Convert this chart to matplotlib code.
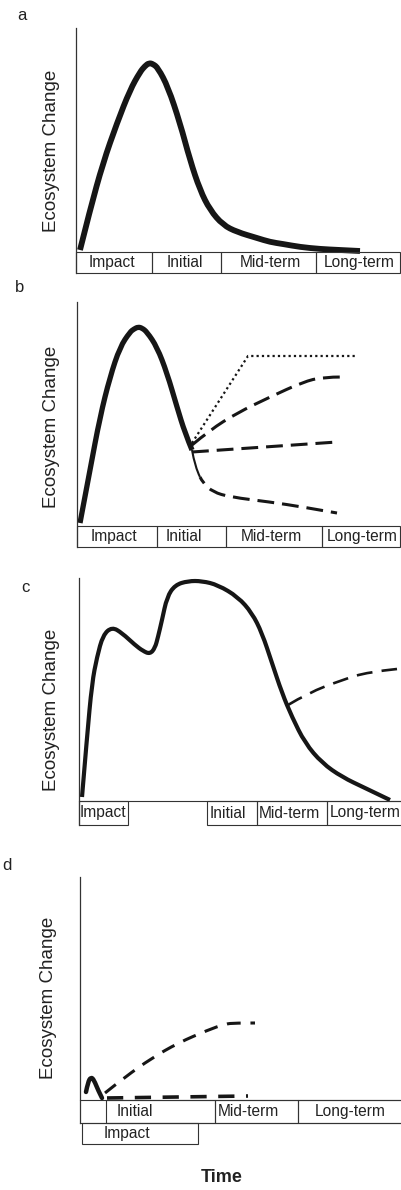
import matplotlib
matplotlib.use("Agg")
import matplotlib.pyplot as plt
from matplotlib.patches import Rectangle, PathPatch
from matplotlib.path import Path

plt.rcParams['font.family'] = ['Liberation Sans', 'DejaVu Sans']

W, H = 402, 1190
INK = '#161616'
EDGE = '#333333'

stages = ['Impact', 'Initial', 'Mid-term', 'Long-term']

# panel a - single pulse, return to baseline
a_t = [4, 14, 27, 41, 54, 64, 69, 73, 77, 82, 92, 104, 114, 124, 134, 147, 161, 181, 194, 207, 224, 244, 264, 284]
a_change = [2, 42, 89, 129, 162, 180, 186, 189, 188, 184, 165, 129, 92, 62, 42, 27, 20, 14, 10, 8, 5, 3, 2, 1]
a_edges = [0, 76, 145, 240, 324]
a_label_x = [36, 109, 194, 283]

# panel b - pulse, then alternative trajectories
b_t = [3, 13, 23, 33, 43, 53, 57, 61, 65, 70, 80, 90, 100, 108, 115]
b_change = [3, 56, 109, 149, 179, 194, 197, 199, 198, 194, 179, 153, 119, 93, 76]
b_thin_t = [115, 118, 123]
b_thin_change = [76, 59, 49]
b_low_t = [123, 126, 136, 153, 193, 226, 260]
b_low_change = [49, 43, 34, 29, 24, 19, 13]
b_dot_t = [115, 171, 278]
b_dot_change = [83, 170, 170]
b_up_t = [115, 133, 160, 193, 226, 246, 265]
b_up_change = [81, 96, 113, 129, 144, 149, 149]
b_mid_t = [115, 260]
b_mid_change = [74, 84]
b_edges = [0, 80, 149, 245, 323]
b_label_x = [37, 107, 194, 285]

# panel c - long press disturbance
c_t = [3, 8, 13, 18, 24, 33, 43, 56, 64, 71, 76, 79, 83, 88, 96, 109, 123, 139, 159, 173,
       183, 193, 203, 213, 226, 243, 263, 286, 311]
c_change = [4, 64, 118, 144, 166, 174, 168, 156, 150, 147, 153, 164, 181, 204, 216, 220, 220, 216, 204, 188,
            168, 138, 108, 84, 58, 38, 24, 13, 1]
c_dash_t = [209, 229, 263, 289, 318]
c_dash_change = [96, 108, 121, 129, 132]
c_impact = [0, 49]
c_edges = [128, 178, 248, 330]
c_label_x = [24, 149, 210, 286]

# panel d - small pulse
d_t = [6, 8, 11, 14, 18, 22]
d_change = [8, 18, 23, 20, 10, 2]
d_up_t = [25, 45, 72, 98, 128, 145, 155, 175]
d_up_change = [7, 23, 42, 57, 70, 76, 77, 77]
d_low_t = [27, 168]
d_low_change = [2, 4]
d_impact = [2, 118]
d_edges = [26, 135, 218, 330]
d_label_x = [47, 55, 168, 270]

fig = plt.figure(figsize=(W / 100, H / 100), dpi=100)


def panel(left, top, bottom, ymin):
    ax = fig.add_axes([left / W, 1 - bottom / H, (W - left) / W, (bottom - top) / H])
    ax.set_xlim(0, W - left)
    ax.set_ylim(ymin, bottom - top + ymin)
    for s in ['top', 'right', 'bottom']:
        ax.spines[s].set_visible(False)
    ax.spines['left'].set_linewidth(0.9)
    ax.spines['left'].set_color(EDGE)
    ax.set_xticks([])
    ax.set_yticks([])
    ax.patch.set_alpha(0)
    return ax


def curve(ax, xs, ys, **kw):
    # smooth path through the read points (quadratic bezier pieces)
    pts = list(zip(xs, ys))
    if len(pts) < 3:
        verts, codes = pts, [Path.MOVETO, Path.LINETO]
    else:
        verts, codes = [pts[0]], [Path.MOVETO]
        for i in range(1, len(pts) - 1):
            if i < len(pts) - 2:
                end = ((pts[i][0] + pts[i + 1][0]) / 2, (pts[i][1] + pts[i + 1][1]) / 2)
            else:
                end = pts[i + 1]
            verts += [pts[i], end]
            codes += [Path.CURVE3, Path.CURVE3]
    ax.add_patch(PathPatch(Path(verts, codes), fill=False, ec=INK, clip_on=False, **kw))


def boxes(ax, edges, y0, h):
    for e0, e1 in zip(edges[:-1], edges[1:]):
        ax.add_patch(Rectangle((e0, y0), e1 - e0, h, fill=False, lw=0.8,
                               ec=EDGE, clip_on=False))


def labels(ax, xs, names, y):
    for x, name in zip(xs, names):
        ax.text(x, y, name, ha='center', va='center', fontsize=11.2, color='#222222')


def ylab(ax, px_left, px_x, frac_y=0.5):
    ax.text((px_x - px_left) / (W - px_left), frac_y, 'Ecosystem Change', rotation=90,
            ha='center', va='center', fontsize=13.5, color='#222222', transform=ax.transAxes)


DASH = (0, (5.5, 2.6))

# a
ax = panel(76, 28, 273, -21)
curve(ax, a_t, a_change, lw=4.2, capstyle='butt', joinstyle='round')
boxes(ax, a_edges, -21, 21)
labels(ax, a_label_x, stages, -10.5)
ylab(ax, 76, 52, 0.5)

# b
ax = panel(77, 302, 547, -21)
curve(ax, b_t, b_change, lw=3.8, capstyle='butt', joinstyle='round')
curve(ax, b_thin_t, b_thin_change, lw=1.5)
curve(ax, b_low_t, b_low_change, lw=2.2, ls=(3, (5.5, 2.6)), capstyle='butt')
ax.plot(b_dot_t, b_dot_change, color=INK, lw=1.6, dashes=(1, 1.4))
curve(ax, b_up_t, b_up_change, lw=2.2, ls=DASH, capstyle='butt')
curve(ax, b_mid_t, b_mid_change, lw=2.2, ls=DASH, capstyle='butt')
boxes(ax, b_edges, -21, 21)
labels(ax, b_label_x, stages, -10.5)
ylab(ax, 77, 52, 0.49)

# c
ax = panel(79, 578, 825, -24)
curve(ax, c_t, c_change, lw=3.0, capstyle='butt', joinstyle='round')
curve(ax, c_dash_t, c_dash_change, lw=1.9, ls=(0, (6, 3.5)), capstyle='butt')
ax.plot([0, 330], [0, 0], color=EDGE, lw=0.8, clip_on=False)
boxes(ax, c_impact, -24, 24)
boxes(ax, c_edges, -24, 24)
labels(ax, c_label_x, stages, -12)
ylab(ax, 79, 52, 0.466)

# d
ax = panel(80, 877, 1123, -23)
curve(ax, d_t, d_change, lw=3.2, capstyle='round', joinstyle='round')
curve(ax, d_up_t, d_up_change, lw=2.2, ls=(0, (4.5, 3.2)), capstyle='butt')
curve(ax, d_low_t, d_low_change, lw=2.6, ls=(0, (4.5, 3.2)), capstyle='butt')
ax.plot([0, 330], [0, 0], color=EDGE, lw=0.8, clip_on=False)
ax.plot([0, 330], [-23, -23], color=EDGE, lw=0.8, clip_on=False)
boxes(ax, d_edges, -23, 23)
boxes(ax, d_impact, -44, 21)
labels(ax, d_label_x[:1], stages[:1], -33.5)
labels(ax, d_label_x[1:], stages[1:], -11.5)
ylab(ax, 80, 49, 0.51)

# panel letters and x label
for letter, (px, py) in zip('abcd', [(22, 15), (20, 288), (25, 587), (7, 866)]):
    fig.text(px / W, 1 - py / H, letter, ha='center', va='center', fontsize=12, color='#222222')
fig.text(222 / W, 1 - 1178 / H, 'Time', ha='center', va='center', fontsize=13,
         fontweight='bold', color='#222222')

fig.savefig('out.png', dpi=100, facecolor='white')
